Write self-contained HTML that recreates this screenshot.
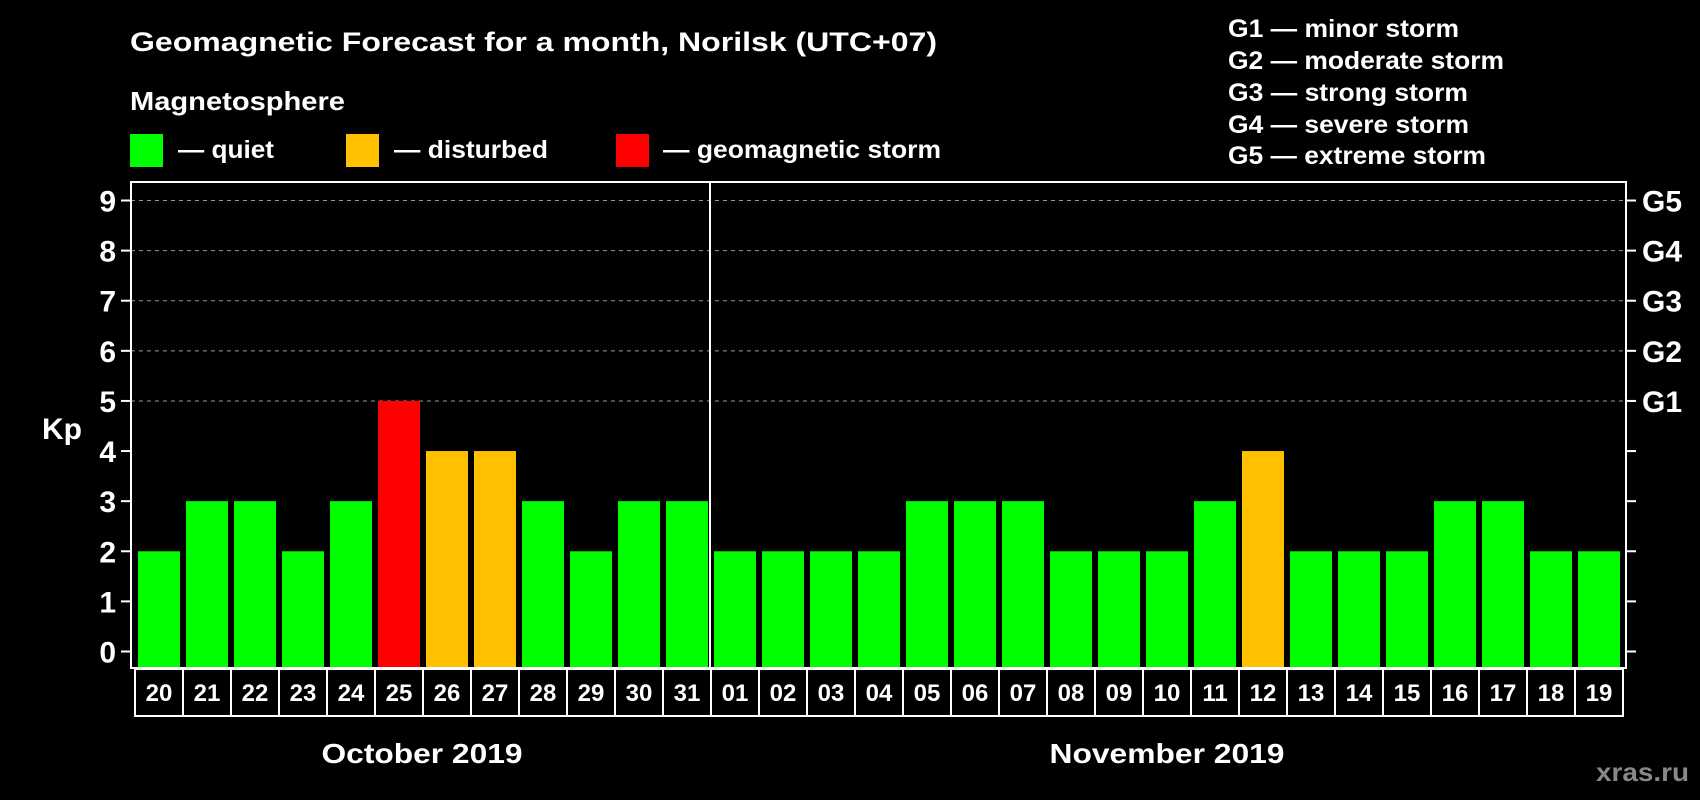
<!DOCTYPE html>
<html><head><meta charset="utf-8"><style>
html,body{margin:0;padding:0;background:#000;}
svg{display:block;font-family:"Liberation Sans",Arial,sans-serif;font-weight:bold;}
</style></head><body>
<svg id="chart" width="1700" height="800" viewBox="0 0 1700 800" xmlns="http://www.w3.org/2000/svg">
<rect x="0" y="0" width="1700" height="800" fill="#000"/>
<text x="130" y="51" fill="#fff" font-size="27" textLength="807" lengthAdjust="spacingAndGlyphs">Geomagnetic Forecast for a month, Norilsk (UTC+07)</text>
<text x="130" y="110" fill="#fff" font-size="26" textLength="215" lengthAdjust="spacingAndGlyphs">Magnetosphere</text>
<g>
<rect x="130" y="134" width="33" height="33" fill="#00ff00"/>
<text x="178" y="158" fill="#fff" font-size="25" textLength="96" lengthAdjust="spacingAndGlyphs">— quiet</text></g>
<g>
<rect x="346" y="134" width="33" height="33" fill="#ffc000"/>
<text x="394" y="158" fill="#fff" font-size="25" textLength="154" lengthAdjust="spacingAndGlyphs">— disturbed</text></g>
<g>
<rect x="616" y="134" width="33" height="33" fill="#ff0000"/>
<text x="663" y="158" fill="#fff" font-size="25" textLength="278" lengthAdjust="spacingAndGlyphs">— geomagnetic storm</text></g>
<g fill="#fff" font-size="25" lengthAdjust="spacingAndGlyphs">
<text x="1228" y="37" textLength="231" lengthAdjust="spacingAndGlyphs">G1 — minor storm</text>
<text x="1228" y="69" textLength="276" lengthAdjust="spacingAndGlyphs">G2 — moderate storm</text>
<text x="1228" y="101" textLength="240" lengthAdjust="spacingAndGlyphs">G3 — strong storm</text>
<text x="1228" y="133" textLength="241" lengthAdjust="spacingAndGlyphs">G4 — severe storm</text>
<text x="1228" y="164" textLength="258" lengthAdjust="spacingAndGlyphs">G5 — extreme storm</text>
</g>
<text x="42" y="439" fill="#fff" font-size="30">Kp</text>
<g id="grid"></g><g id="bars"></g><g id="axes"></g><g id="dates"></g>
<text x="422" y="763" fill="#fff" font-size="28" text-anchor="middle" textLength="201" lengthAdjust="spacingAndGlyphs">October 2019</text>
<text x="1167" y="763" fill="#fff" font-size="28" text-anchor="middle" textLength="235" lengthAdjust="spacingAndGlyphs">November 2019</text>
<text x="1689" y="781" fill="#888" font-size="26" text-anchor="end" textLength="93" lengthAdjust="spacingAndGlyphs">xras.ru</text>
</svg>
<script>
const days = ["20","21","22","23","24","25","26","27","28","29","30","31","01","02","03","04","05","06","07","08","09","10","11","12","13","14","15","16","17","18","19"];
const kpValues = [2,3,3,2,3,5,4,4,3,2,3,3,2,2,2,2,3,3,3,2,2,2,3,4,2,2,2,3,3,2,2];
const yTicks = [0,1,2,3,4,5,6,7,8,9];
const gLabels = ["G1","G2","G3","G4","G5"];
const gLevels = [5,6,7,8,9];
const NS = "http://www.w3.org/2000/svg";
const PL = 131, PR = 1626, PT = 182, PB = 668;
const SLOT = 48, X0 = 135;
function y(v){ return 651.5 - v * (451/9); }
function x(i){ return X0 + i * SLOT; }
function mk(tag, attrs, parent){ const e = document.createElementNS(NS, tag); for (const k in attrs) e.setAttribute(k, attrs[k]); parent.appendChild(e); return e; }
function color(v){ return v >= 5 ? "#ff0000" : (v >= 4 ? "#ffc000" : "#00ff00"); }
const grid = document.getElementById("grid"), bars = document.getElementById("bars"), axes = document.getElementById("axes"), dates = document.getElementById("dates");
gLevels.forEach((lv, i) => {
  const l = mk("line", {x1:PL, x2:PR, y1:y(lv), y2:y(lv), stroke:"#999", "stroke-width":1, "stroke-dasharray":"4,4"}, grid);
  
  
  const t = mk("text", {x:1642, y:y(lv)+11, fill:"#fff", "font-size":30}, axes);
  t.textContent = gLabels[i];
  
  
});
kpValues.forEach((v, i) => {
  const r = mk("rect", {x:x(i)+3, y:y(v), width:42, height:PB - y(v), fill:color(v)}, bars);
  
  
});
const frame = mk("rect", {x:PL, y:PT, width:PR-PL, height:PB-PT, fill:"none", stroke:"#fff", "stroke-width":2}, axes);


const sep = mk("line", {x1:x(12)-1, x2:x(12)-1, y1:PT, y2:PB, stroke:"#fff", "stroke-width":2}, axes);


yTicks.forEach(v => {
  mk("line", {x1:PL-10, x2:PL, y1:y(v), y2:y(v), stroke:"#fff", "stroke-width":2}, axes);
  mk("line", {x1:PR, x2:PR+10, y1:y(v), y2:y(v), stroke:"#fff", "stroke-width":2}, axes);
  const t = mk("text", {x:116, y:y(v)+11, fill:"#fff", "font-size":30, "text-anchor":"end"}, axes);
  t.textContent = v;
  
  
});
days.forEach((d, i) => {
  const c = mk("rect", {x:x(i), y:PB+1, width:SLOT, height:47, fill:"none", stroke:"#fff", "stroke-width":2}, dates);
  
  
  const t = mk("text", {x:x(i)+SLOT/2, y:PB+33, fill:"#fff", "font-size":24, "text-anchor":"middle"}, dates);
  t.textContent = d;
  
  
});
</script>
</body></html>
